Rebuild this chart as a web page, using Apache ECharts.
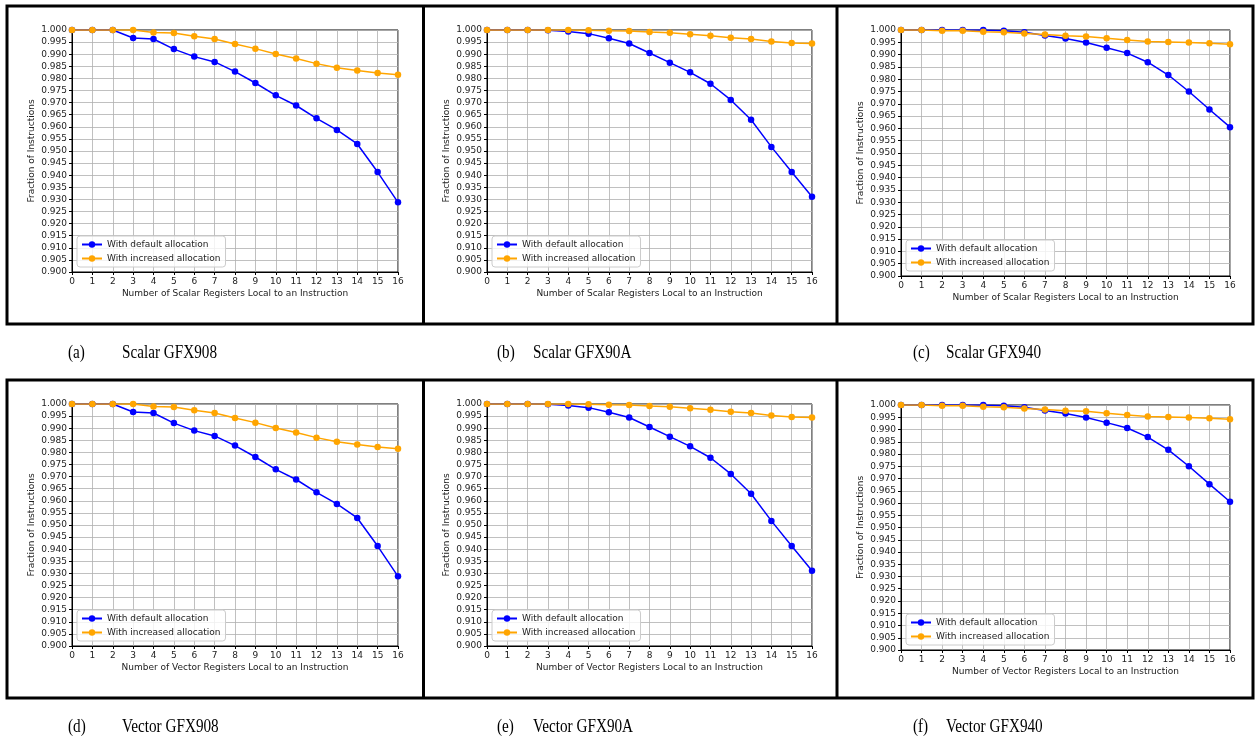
<!DOCTYPE html>
<html>
<head>
<meta charset="utf-8">
<script src="https://cdn.jsdelivr.net/npm/echarts@6/dist/echarts.min.js"></script>
<style>
  html, body { margin: 0; padding: 0; background: #fff; }
  #chartmain { width: 1256px; height: 740px; }
</style>
</head>
<body>
<div id="chartmain"></div>
<script>
// registers local to an instruction (x axis)
var regs = [0, 1, 2, 3, 4, 5, 6, 7, 8, 9, 10, 11, 12, 13, 14, 15, 16];
var yTicks = { min: 0.9, max: 1.0, step: 0.005 };

// (a) Scalar GFX908
var scalar908Default = [1.0, 1.0, 1.0, 0.9967, 0.9963, 0.9921, 0.989, 0.9868, 0.9828, 0.9781, 0.973, 0.9688, 0.9635, 0.9587, 0.9529, 0.9413, 0.9288];
var scalar908Increased = [1.0, 1.0, 1.0, 1.0, 0.999, 0.9988, 0.9974, 0.9963, 0.9942, 0.9923, 0.9901, 0.9882, 0.9861, 0.9844, 0.9833, 0.9822, 0.9815];
// (b) Scalar GFX90A
var scalar90ADefault = [1.0, 1.0, 1.0, 0.9999, 0.9994, 0.9985, 0.9966, 0.9944, 0.9905, 0.9865, 0.9825, 0.9778, 0.9711, 0.9629, 0.9517, 0.9413, 0.9311];
var scalar90AIncreased = [1.0, 1.0, 1.0, 1.0, 1.0, 0.9999, 0.9997, 0.9996, 0.9992, 0.9989, 0.9982, 0.9976, 0.9968, 0.9963, 0.9952, 0.9946, 0.9944];
// (c) Scalar GFX940
var scalar940Default = [1.0, 1.0, 1.0, 1.0, 1.0, 0.9997, 0.9991, 0.9978, 0.9965, 0.9949, 0.9928, 0.9906, 0.9869, 0.9817, 0.975, 0.9677, 0.9605];
var scalar940Increased = [1.0, 1.0, 0.9997, 0.9997, 0.9993, 0.9991, 0.9986, 0.9982, 0.9977, 0.9974, 0.9966, 0.9959, 0.9953, 0.9951, 0.9949, 0.9946, 0.9942];
// (d) Vector GFX908
var vector908Default = [1.0, 1.0, 1.0, 0.9967, 0.9963, 0.9921, 0.989, 0.9868, 0.9828, 0.9781, 0.973, 0.9688, 0.9635, 0.9587, 0.9529, 0.9413, 0.9288];
var vector908Increased = [1.0, 1.0, 1.0, 1.0, 0.999, 0.9988, 0.9974, 0.9963, 0.9942, 0.9923, 0.9901, 0.9882, 0.9861, 0.9844, 0.9833, 0.9822, 0.9815];
// (e) Vector GFX90A
var vector90ADefault = [1.0, 1.0, 1.0, 0.9999, 0.9994, 0.9985, 0.9966, 0.9944, 0.9905, 0.9865, 0.9825, 0.9778, 0.9711, 0.9629, 0.9517, 0.9413, 0.9311];
var vector90AIncreased = [1.0, 1.0, 1.0, 1.0, 1.0, 0.9999, 0.9997, 0.9996, 0.9992, 0.9989, 0.9982, 0.9976, 0.9968, 0.9963, 0.9952, 0.9946, 0.9944];
// (f) Vector GFX940
var vector940Default = [1.0, 1.0, 1.0, 1.0, 1.0, 0.9997, 0.9991, 0.9978, 0.9965, 0.9949, 0.9928, 0.9906, 0.9869, 0.9817, 0.975, 0.9677, 0.9605];
var vector940Increased = [1.0, 1.0, 0.9997, 0.9997, 0.9993, 0.9991, 0.9986, 0.9982, 0.9977, 0.9974, 0.9966, 0.9959, 0.9953, 0.9951, 0.9949, 0.9946, 0.9942];

var seriesNames = ["With default allocation", "With increased allocation"];
var captionLetters = ["(a)", "(b)", "(c)", "(d)", "(e)", "(f)"];
var captionTexts = ["Scalar GFX908", "Scalar GFX90A", "Scalar GFX940", "Vector GFX908", "Vector GFX90A", "Vector GFX940"];
var xNames = [
  "Number of Scalar Registers Local to an Instruction",
  "Number of Scalar Registers Local to an Instruction",
  "Number of Scalar Registers Local to an Instruction",
  "Number of Vector Registers Local to an Instruction",
  "Number of Vector Registers Local to an Instruction",
  "Number of Vector Registers Local to an Instruction"
];
var panelData = [
  [scalar908Default, scalar908Increased],
  [scalar90ADefault, scalar90AIncreased],
  [scalar940Default, scalar940Increased],
  [vector908Default, vector908Increased],
  [vector90ADefault, vector90AIncreased],
  [vector940Default, vector940Increased]
];

// plot area of every panel (pixels)
var boxes = [
  { left: 72, top: 30, width: 326, height: 242 },
  { left: 487, top: 30, width: 325, height: 242 },
  { left: 901, top: 30, width: 329, height: 246 },
  { left: 72, top: 404, width: 326, height: 242 },
  { left: 487, top: 404, width: 325, height: 242 },
  { left: 901, top: 405, width: 329, height: 245 }
];
// [letter x, text x, middle y]
var captionPos = [
  [68, 122, 353], [497, 533, 353], [913, 946, 353],
  [68, 122, 727], [497, 533, 727], [913, 946, 727]
];
var colors = ["#0000ff", "#ffa500"];
var tickFont = "DejaVu Sans";
var captionFont = '19px "Liberation Serif"';

function pairs(ys) {
  var out = [];
  for (var i = 0; i < regs.length; i++) out.push([regs[i], ys[i]]);
  return out;
}

var grids = [], xAxes = [], yAxes = [], series = [], legends = [], graphics = [];

for (var p = 0; p < 6; p++) {
  var b = boxes[p];
  grids.push({
    left: b.left, top: b.top, width: b.width, height: b.height,
    show: true, borderColor: "#000", borderWidth: 1, backgroundColor: "transparent"
  });
  xAxes.push({
    gridIndex: p, type: "value", min: 0, max: 16, interval: 1,
    name: xNames[p], nameLocation: "middle", nameGap: 17,
    nameTextStyle: { fontFamily: tickFont, fontSize: 9, color: "#222" },
    axisLine: { show: true, onZero: false, lineStyle: { color: "#000", width: 1 } },
    axisTick: { show: true, length: 3, lineStyle: { color: "#000" } },
    axisLabel: { fontFamily: tickFont, fontSize: 9, color: "#222", margin: 5 },
    splitLine: { show: true, lineStyle: { color: "#b0b0b0", width: 0.8 } }
  });
  yAxes.push({
    gridIndex: p, type: "value", min: yTicks.min, max: yTicks.max, interval: yTicks.step,
    name: "Fraction of Instructions", nameLocation: "middle", nameGap: 36,
    nameTextStyle: { fontFamily: tickFont, fontSize: 9, color: "#222" },
    axisLine: { show: true, lineStyle: { color: "#000", width: 1 } },
    axisTick: { show: true, length: 3, lineStyle: { color: "#000" } },
    axisLabel: {
      fontFamily: tickFont, fontSize: 9, color: "#222", margin: 5,
      formatter: function (v) { return v.toFixed(3); }
    },
    splitLine: { show: true, lineStyle: { color: "#b0b0b0", width: 0.8 } }
  });
  for (var s = 0; s < 2; s++) {
    // the second (orange) series is drawn on top, as in the original plot
    series.push({
      name: seriesNames[s], type: "line",
      xAxisIndex: p, yAxisIndex: p,
      data: pairs(panelData[p][s]),
      symbol: "circle", symbolSize: 6.5, showAllSymbol: true,
      color: colors[s],
      lineStyle: { color: colors[s], width: 1.5 },
      itemStyle: { color: colors[s] },
      z: 3 + s
    });
  }
  legends.push({
    data: seriesNames, orient: "vertical",
    left: b.left + 5, top: b.top + b.height - 36,
    itemWidth: 20, itemHeight: 8, itemGap: 5,
    padding: [4, 5, 4, 4],
    backgroundColor: "rgba(255,255,255,0.8)",
    borderColor: "#cccccc", borderWidth: 1, borderRadius: 3,
    textStyle: { fontFamily: tickFont, fontSize: 9, color: "#222" }
  });
  graphics.push({
    type: "text", x: captionPos[p][0], y: captionPos[p][2], scaleX: 0.8,
    style: { text: captionLetters[p], font: captionFont, fill: "#000", verticalAlign: "middle" }
  });
  graphics.push({
    type: "text", x: captionPos[p][1], y: captionPos[p][2], scaleX: 0.8,
    style: { text: captionTexts[p], font: captionFont, fill: "#000", verticalAlign: "middle" }
  });
}

// table cell borders
var frameStyle = { stroke: "#000", lineWidth: 3, fill: null };
graphics.push({ type: "rect", shape: { x: 7, y: 6, width: 1246, height: 318 }, style: frameStyle, silent: true });
graphics.push({ type: "rect", shape: { x: 7, y: 380, width: 1246, height: 318 }, style: frameStyle, silent: true });
graphics.push({ type: "line", shape: { x1: 423.5, y1: 6, x2: 423.5, y2: 324 }, style: { stroke: "#000", lineWidth: 3 }, silent: true });
graphics.push({ type: "line", shape: { x1: 837, y1: 6, x2: 837, y2: 324 }, style: { stroke: "#000", lineWidth: 3 }, silent: true });
graphics.push({ type: "line", shape: { x1: 423.5, y1: 380, x2: 423.5, y2: 698 }, style: { stroke: "#000", lineWidth: 3 }, silent: true });
graphics.push({ type: "line", shape: { x1: 837, y1: 380, x2: 837, y2: 698 }, style: { stroke: "#000", lineWidth: 3 }, silent: true });

var option = {
  animation: false,
  backgroundColor: "#fff",
  grid: grids,
  xAxis: xAxes,
  yAxis: yAxes,
  legend: legends,
  series: series,
  graphic: graphics
};

var myChart = echarts.init(document.getElementById("chartmain"));
myChart.setOption(option);
</script>
</body>
</html>
